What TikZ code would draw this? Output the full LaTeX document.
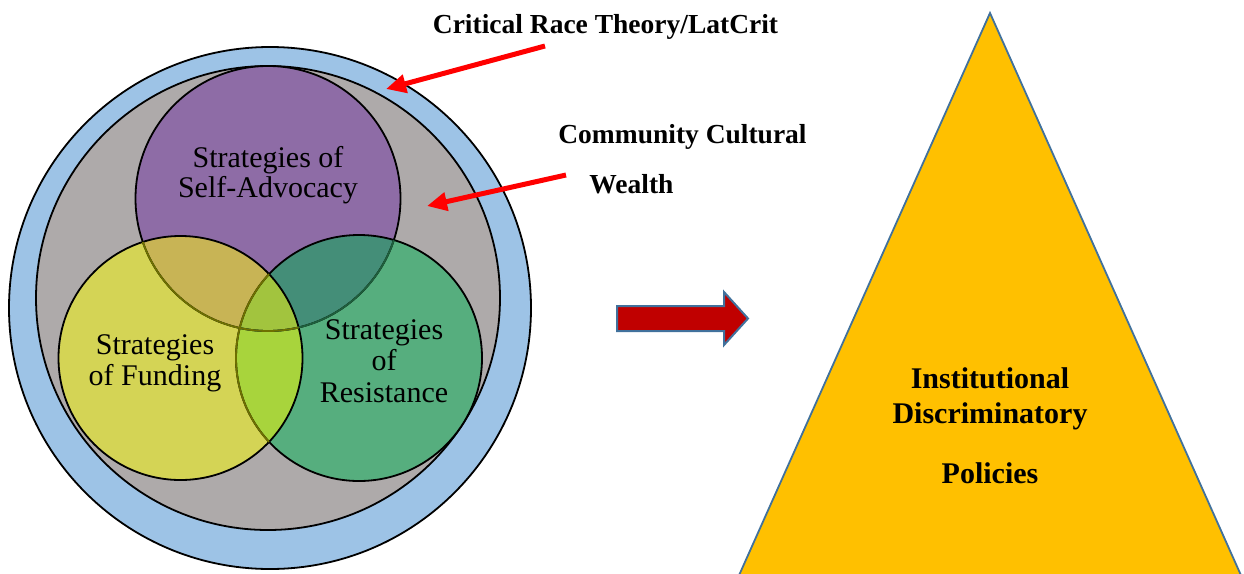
\documentclass[tikz,border=0pt]{standalone}
\usepackage{fontspec}
\setmainfont{Liberation Serif}
\usetikzlibrary{arrows.meta}
\definecolor{ringblue}{HTML}{9DC3E6}
\definecolor{greyc}{HTML}{AEAAAA}
\definecolor{purp}{HTML}{8E6CA6}
\definecolor{yell}{HTML}{D4D455}
\definecolor{gree}{HTML}{56AE7E}
\definecolor{py}{HTML}{C8B455}
\definecolor{pg}{HTML}{448E78}
\definecolor{yg}{HTML}{A8D43C}
\definecolor{pyg}{HTML}{A2C43E}
\definecolor{olive}{HTML}{6E7000}
\definecolor{dgreen}{HTML}{1E5F3C}
\definecolor{edgeblue}{HTML}{41719C}
\definecolor{gold}{HTML}{FFC000}
\definecolor{darkred}{HTML}{C00000}
\begin{document}
\begin{tikzpicture}[x=1pt,y=-1pt,
  ring/.style={line width=1.8pt},
  vtext/.style={anchor=base,inner sep=0pt,font=\fontsize{30}{30}\selectfont},
  btext/.style={anchor=base,inner sep=0pt,font=\fontsize{27.5}{27.5}\selectfont\bfseries},
  ttext/.style={anchor=base,inner sep=0pt,font=\fontsize{30}{30}\selectfont\bfseries},
  redarrow/.style={draw=red,line width=5pt,-{Triangle[length=20pt,width=18pt]}}]
\useasboundingbox (0,0) rectangle (1244,573);
\clip (0,0) rectangle (1244,573);
% centres
\coordinate (O) at (270,308);
\coordinate (G) at (268,298);
\coordinate (P) at (268,198.5);
\coordinate (Y) at (180.5,358);
\coordinate (N) at (359,358);
\def\rP{132.5}\def\rY{122}\def\rN{123}
% outer rings
\path[fill=ringblue,draw=black,ring] (O) circle[radius=261];
\path[fill=greyc,draw=black,ring] (G) circle[radius=232];
% venn fills
\fill[purp] (P) circle[radius=\rP];
\fill[gree] (N) circle[radius=\rN];
\fill[yell] (Y) circle[radius=\rY];
\begin{scope}
  \clip (P) circle[radius=\rP];
  \fill[py] (Y) circle[radius=\rY];
  \fill[pg] (N) circle[radius=\rN];
\end{scope}
\begin{scope}
  \clip (Y) circle[radius=\rY];
  \fill[yg] (N) circle[radius=\rN];
  \clip (P) circle[radius=\rP];
  \fill[pyg] (N) circle[radius=\rN];
\end{scope}
% outlines
\draw[ring] (P) circle[radius=\rP];
\draw[ring] (N) circle[radius=\rN];
\draw[ring] (Y) circle[radius=\rY];
\begin{scope}
  \clip (N) circle[radius=\rN];
  \draw[ring,dgreen] (P) circle[radius=\rP];
\end{scope}
\begin{scope}
  \clip (Y) circle[radius=\rY];
  \draw[ring,olive] (P) circle[radius=\rP];
  \draw[ring,olive] (N) circle[radius=\rN];
\end{scope}
% venn texts
\node[vtext] (sa1) at (268,167) {Strategies of};
\node[vtext] (sa2) at (268,197) {Self-Advocacy};
\node[vtext] (sf1) at (155,354) {Strategies};
\node[vtext] (sf2) at (155,385) {of Funding};
\node[vtext] (sr1) at (384,339) {Strategies};
\node[vtext] (sr2) at (384,370) {of};
\node[vtext] (sr3) at (384,402) {Resistance};
% labels
\node[btext] (crt) at (605.5,33) {Critical Race Theory/LatCrit};
\node[btext] (ccw1) at (682.5,143) {Community Cultural};
\node[btext] (ccw2) at (631.5,193) {Wealth};
% red arrows
\coordinate (a1s) at (545,46);
\coordinate (a1e) at (386,89);
\coordinate (a2s) at (566,175);
\coordinate (a2e) at (427,206);
\draw[redarrow] (a1s) -- (a1e);
\draw[redarrow] (a2s) -- (a2e);
% block arrow
\draw[fill=darkred,draw=edgeblue,line width=2pt,line join=miter]
  (617,306) -- (724,306) -- (724,292) -- (748,318.5) -- (724,345) -- (724,331) -- (617,331) -- cycle;
% triangle
\draw[fill=gold,draw=edgeblue,line width=1.8pt] (990,13) -- (1252,600) -- (728,600) -- cycle;
\node[ttext] (t1) at (990,388) {Institutional};
\node[ttext] (t2) at (990,423) {Discriminatory};
\node[ttext] (t3) at (990,483) {Policies};
\end{tikzpicture}
\end{document}
